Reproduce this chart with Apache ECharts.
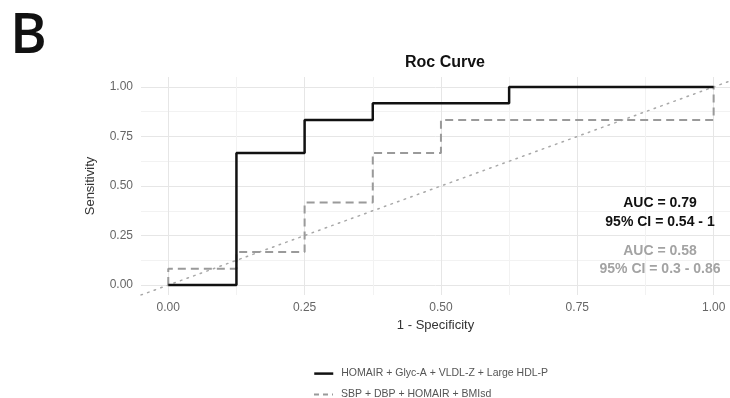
<!DOCTYPE html>
<html>
<head>
<meta charset="utf-8">
<script src="https://cdn.jsdelivr.net/npm/echarts@6/dist/echarts.min.js"></script>
<style>
html,body{margin:0;padding:0;background:#fff;}
#chart{width:730px;height:398px;}
</style>
</head>
<body>
<div id="chart"></div>
<script>
// ---- data ----
const seriesNames = ['HOMAIR + Glyc-A + VLDL-Z + Large HDL-P', 'SBP + DBP + HOMAIR + BMIsd'];
const fprA = [0, 0.125, 0.125, 0.25, 0.25, 0.375, 0.375, 0.625, 0.625, 1];
const tprA = [0, 0, 0.667, 0.667, 0.833, 0.833, 0.917, 0.917, 1, 1];
const fprB = [0, 0, 0.125, 0.125, 0.25, 0.25, 0.375, 0.375, 0.5, 0.5, 1, 1];
const tprB = [0, 0.083, 0.083, 0.167, 0.167, 0.417, 0.417, 0.667, 0.667, 0.833, 0.833, 1];
const diagX = [-0.05, 1.05];
const diagY = [-0.05, 1.05];
const gridTicks = [0, 0.125, 0.25, 0.375, 0.5, 0.625, 0.75, 0.875, 1];
const labelTicks = [0, 0.25, 0.5, 0.75, 1];
const aucA = ['AUC = 0.79', '95% CI = 0.54 - 1'];
const aucB = ['AUC = 0.58', '95% CI = 0.3 - 0.86'];

const zip = (xs, ys) => xs.map((x, i) => [x, ys[i]]);
const FONT = '"Liberation Sans", Arial, sans-serif';

const chart = echarts.init(document.getElementById('chart'), null, {renderer: 'canvas'});

const axisCommon = {
  type: 'value',
  axisLine: {show: false},
  axisTick: {show: false, customValues: gridTicks},
  splitLine: {show: true, lineStyle: {color: ['#e6e6e6', '#f2f2f2'], width: 1}},
  axisLabel: {
    customValues: labelTicks,
    color: '#666',
    fontSize: 12,
    fontFamily: FONT,
    formatter: v => v.toFixed(2)
  },
  nameLocation: 'middle',
  nameTextStyle: {color: '#333', fontSize: 13, fontFamily: FONT}
};

const legendCommon = {
  orient: 'vertical',
  left: 313,
  padding: 0,
  itemWidth: 19,
  itemHeight: 14,
  itemStyle: {opacity: 0, borderWidth: 0},
  textStyle: {fontSize: 10.5, color: '#555', fontFamily: FONT, padding: [0, 0, 0, 3]}
};

chart.setOption({
  animation: false,
  backgroundColor: '#fff',
  title: {
    text: 'Roc Curve',
    left: 440,
    top: 50,
    textAlign: 'center',
    textStyle: {fontSize: 16, fontWeight: 'bold', color: '#111', fontFamily: FONT}
  },
  grid: {left: 141, right: 0, top: 77, bottom: 103, containLabel: false},
  xAxis: Object.assign({}, axisCommon, {
    min: -0.05, max: 1.03,
    name: '1 - Specificity',
    nameGap: 24,
    axisLabel: Object.assign({}, axisCommon.axisLabel, {margin: 7})
  }),
  yAxis: Object.assign({}, axisCommon, {
    min: -0.05, max: 1.05,
    name: 'Sensitivity',
    nameGap: 44,
    axisLabel: Object.assign({}, axisCommon.axisLabel, {margin: 8})
  }),
  legend: [
    Object.assign({}, legendCommon, {top: 368, data: [seriesNames[0]], lineStyle: {width: 2.5}}),
    Object.assign({}, legendCommon, {top: 389, data: [seriesNames[1]], lineStyle: {width: 2, type: [5, 4]}})
  ],
  series: [
    {
      type: 'line',
      name: 'diag',
      data: zip(diagX, diagY),
      symbol: 'none',
      silent: true,
      lineStyle: {color: '#a8a8a8', width: 1.5, type: [1.5, 5.5], cap: 'round'},
      z: 1
    },
    {
      type: 'line',
      name: seriesNames[1],
      data: zip(fprB, tprB),
      symbol: 'none',
      lineStyle: {color: '#9a9a9a', width: 2, type: [8, 5]},
      itemStyle: {color: '#9a9a9a'},
      z: 2
    },
    {
      type: 'line',
      name: seriesNames[0],
      data: zip(fprA, tprA),
      symbol: 'none',
      lineStyle: {color: '#111', width: 2.5},
      itemStyle: {color: '#111'},
      z: 3
    }
  ],
  graphic: [
    {type: 'text', left: 10, top: 9, z: 100, style: {text: 'B', font: '600 56px "Open Sans", "Noto Sans", sans-serif', fill: '#111'}},
    {type: 'text', x: 660, y: 203, z: 100, style: {text: aucA[0], fill: '#111', font: 'bold 14px ' + FONT, align: 'center', verticalAlign: 'middle'}},
    {type: 'text', x: 660, y: 222, z: 100, style: {text: aucA[1], fill: '#111', font: 'bold 14px ' + FONT, align: 'center', verticalAlign: 'middle'}},
    {type: 'text', x: 660, y: 251, z: 100, style: {text: aucB[0], fill: '#a3a3a3', font: 'bold 14px ' + FONT, align: 'center', verticalAlign: 'middle'}},
    {type: 'text', x: 660, y: 269, z: 100, style: {text: aucB[1], fill: '#a3a3a3', font: 'bold 14px ' + FONT, align: 'center', verticalAlign: 'middle'}}
  ]
});
</script>
</body>
</html>
